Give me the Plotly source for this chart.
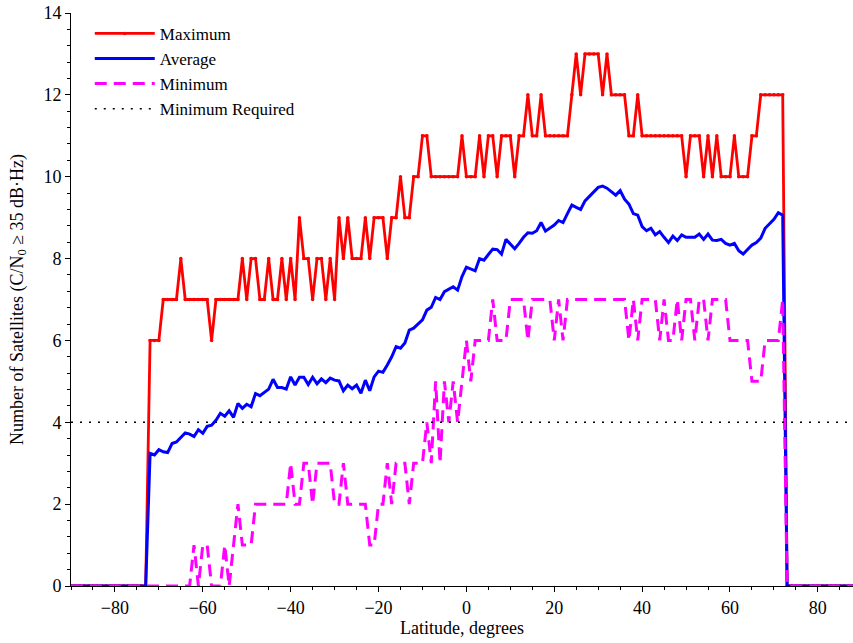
import plotly.graph_objects as go

# Latitude grid, 1-degree steps
latitude = list(range(-90, 91))

# Maximum number of satellites above the C/N0 threshold
sats_max = (
    [0] * 18
    + [6, 6, 6, 7, 7, 7, 7, 8, 7, 7, 7, 7, 7, 7, 6, 7, 7, 7, 7, 7, 7]      # -72 .. -52
    + [8, 7, 8, 8, 7, 7, 8, 7, 7, 8, 7, 8, 7, 9, 8, 8, 7, 8, 8, 7, 8]      # -51 .. -31
    + [7, 9, 8, 9, 8, 8, 8, 9, 8, 9, 9, 9, 8, 9, 9, 10, 9, 9, 10, 10]      # -30 .. -11
    + [11, 11, 10, 10, 10, 10, 10, 10, 10, 11]                             # -10 .. -1
    + [10, 10, 10, 11, 10, 11, 11, 10, 11, 11, 11, 10, 11, 11, 12, 11, 11, 12,
       11, 11, 11, 11, 11, 11, 12]                                         # 0 .. 24
    + [13, 12, 13, 13, 13, 13, 12, 13, 12, 12, 12, 12, 11, 11, 12]         # 25 .. 39
    + [11] * 10                                                            # 40 .. 49
    + [10, 11, 11, 11, 10, 11, 10, 11, 10, 10, 10, 11, 10, 10, 10, 11, 11] # 50 .. 66
    + [12] * 6                                                             # 67 .. 72
    + [0] * 18
)

# Average number of satellites
sats_avg = (
    [0] * 18
    + [3.24, 3.20, 3.33, 3.28, 3.26, 3.48, 3.52, 3.62, 3.74, 3.71, 3.65, 3.82,
       3.73, 3.90, 3.93, 4.05, 4.22, 4.15, 4.28, 4.12, 4.46]              # -72 .. -52
    + [4.34, 4.44, 4.38, 4.70, 4.65, 4.73, 4.81, 5.05, 4.85, 4.85, 4.81, 5.11,
       4.91, 5.10, 5.10, 4.92, 5.10, 4.94, 5.06, 4.97, 5.08]              # -51 .. -31
    + [5.03, 5.01, 4.77, 4.91, 4.82, 4.91, 4.71, 5.03, 4.77, 5.11, 5.25, 5.22,
       5.40, 5.60, 5.85, 5.81, 5.94, 6.25, 6.30, 6.40]                    # -30 .. -11
    + [6.50, 6.74, 6.81, 7.05, 7.00, 7.19, 7.25, 7.31, 7.23, 7.56]        # -10 .. -1
    + [7.79, 7.74, 7.70, 8.00, 7.96, 8.10, 8.23, 8.22, 8.11, 8.47, 8.35, 8.24,
       8.37, 8.52, 8.63, 8.62, 8.68, 8.88, 8.67, 8.74, 8.82, 8.93, 8.88, 9.10,
       9.31]                                                              # 0 .. 24
    + [9.25, 9.20, 9.41, 9.51, 9.63, 9.74, 9.77, 9.72, 9.63, 9.55, 9.66, 9.45,
       9.33, 9.10, 9.06]                                                  # 25 .. 39
    + [8.78, 8.68, 8.74, 8.58, 8.66, 8.52, 8.39, 8.55, 8.44, 8.58]        # 40 .. 49
    + [8.52, 8.52, 8.52, 8.60, 8.47, 8.60, 8.45, 8.44, 8.47, 8.37, 8.33, 8.37,
       8.19, 8.11, 8.21, 8.33, 8.39]                                      # 50 .. 66
    + [8.50, 8.74, 8.84, 8.96, 9.12, 9.06]                                # 67 .. 72
    + [0] * 18
)

# Minimum number of satellites
sats_min = (
    [0] * 28
    + [1, 0, 1, 1, 0, 0, 0, 1, 0, 1, 2]                                    # -62 .. -52
    + [1, 1, 1, 2, 2, 2, 2, 2, 2, 2, 2, 3, 2, 2, 3, 3, 2, 3, 3, 3, 3]      # -51 .. -31
    + [2, 2, 3, 2, 2, 2, 2, 2, 1, 1, 2, 2, 3, 2, 3, 3, 3, 2, 3, 3]         # -30 .. -11
    + [3, 4, 3, 5, 3, 5, 4, 5, 4, 5]                                       # -10 .. -1
    + [6, 5, 6, 6, 6, 6, 7, 6, 6, 6, 7, 7, 7, 7, 6, 7, 7, 7, 7, 7, 6, 7,
       6, 7, 7]                                                            # 0 .. 24
    + [7, 7, 7, 7, 7, 7, 7, 7, 7, 7, 7, 7, 6, 7, 6]                        # 25 .. 39
    + [7, 7, 7, 7, 6, 7, 6, 6, 7, 6]                                       # 40 .. 49
    + [7, 7, 6, 7, 7, 6, 7, 7, 7, 7, 6, 6, 6, 6, 6, 5, 5]                  # 50 .. 66
    + [5, 6, 6, 6, 6, 7]                                                   # 67 .. 72
    + [0] * 18
)

# Required number of satellites
min_required = 4

FONT = "Liberation Serif, Times New Roman, serif"

fig = go.Figure()

fig.add_trace(go.Scatter(
    x=latitude, y=sats_max, name="Maximum", mode="lines+markers",
    line=dict(color="#ff0000", width=2.8),
    marker=dict(color="#ff0000", size=3.5),
))
fig.add_trace(go.Scatter(
    x=latitude, y=sats_avg, name="Average", mode="lines",
    line=dict(color="#0000ff", width=3),
))
fig.add_trace(go.Scatter(
    x=latitude, y=sats_min, name="Minimum", mode="lines",
    line=dict(color="#ff00ff", width=3, dash="12px,7px"),
))
fig.add_trace(go.Scatter(
    x=[latitude[0], latitude[-1]], y=[min_required, min_required],
    name="Minimum Required", mode="lines",
    line=dict(color="#000000", width=1.5, dash="2px,7px"),
))

axis_common = dict(
    showline=True, linecolor="black", linewidth=1,
    ticks="outside", ticklen=5, tickwidth=1, tickcolor="black",
    showgrid=False, zeroline=False,
    tickfont=dict(family=FONT, size=18, color="black"),
    mirror=False,
)

fig.update_layout(
    width=853, height=643,
    margin=dict(l=71, r=0, t=13, b=57),
    paper_bgcolor="white", plot_bgcolor="white",
    font=dict(family=FONT, size=18, color="black"),
    showlegend=True,
    legend=dict(
        x=0.024, y=0.995, xanchor="left", yanchor="top",
        bgcolor="rgba(0,0,0,0)", borderwidth=0,
        font=dict(family=FONT, size=17, color="black"),
        itemwidth=60,
    ),
    xaxis=dict(
        range=[-90, 88], tick0=0, dtick=20,
        minor=dict(dtick=5, ticks="outside", ticklen=3, tickcolor="black"),
        title=dict(text="Latitude, degrees", font=dict(family=FONT, size=18), standoff=4),
        **axis_common,
    ),
    yaxis=dict(
        range=[0, 14], tick0=0, dtick=2,
        minor=dict(dtick=0.4, ticks="outside", ticklen=3, tickcolor="black"),
        title=dict(text="Number of Satellites (C/N<sub>0</sub> \u2265 35 dB\u00b7Hz)",
                   font=dict(family=FONT, size=18), standoff=15),
        **axis_common,
    ),
)

fig.write_html("out.html")
